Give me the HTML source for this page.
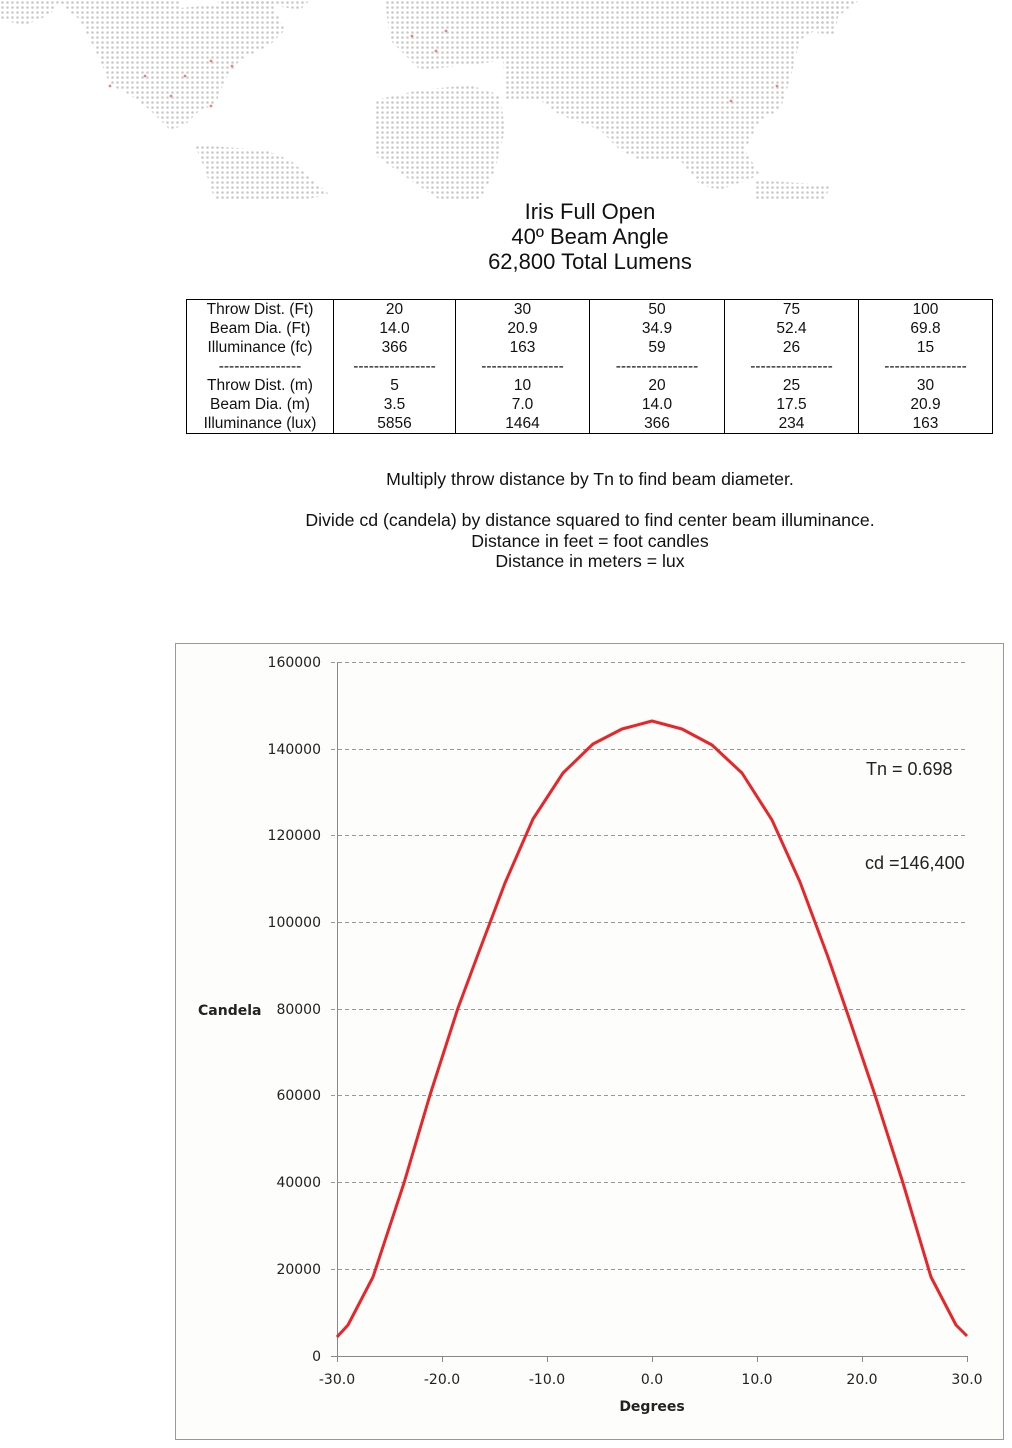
<!DOCTYPE html>
<html><head><meta charset="utf-8"><style>
body{margin:0;background:#fff;width:1012px;height:1448px;position:relative;overflow:hidden;font-family:"Liberation Sans",Arial,sans-serif;color:#111}
.t{position:absolute;left:0;width:1180px;text-align:center}
table{position:absolute;left:186px;top:299px;border-collapse:collapse;border:1px solid #000;font-size:15.5px;table-layout:fixed}
td{border-left:1px solid #000;border-right:1px solid #000;height:19px;padding:0;text-align:center;line-height:19px;white-space:nowrap;overflow:hidden}
</style></head><body>
<svg style="position:absolute;left:0;top:0" width="1012" height="205">
<defs><pattern id="d" width="5" height="5" patternUnits="userSpaceOnUse"><circle cx="2.5" cy="2.5" r="1.3" fill="#c9c9c9"/></pattern></defs>
<g fill="url(#d)">
<polygon points="0,0 60,0 50,15 25,25 0,20"/>
<polygon points="55,0 180,0 180,8 270,0 285,30 270,45 240,60 225,80 215,105 200,110 185,125 170,130 150,110 130,95 110,85 100,60 80,20"/>
<polygon points="215,0 310,0 300,10 270,5 230,10"/>
<polygon points="195,145 265,150 290,160 330,195 300,200 215,200 205,170"/>
<polygon points="385,0 505,0 505,60 470,65 420,70 390,40"/>
<polygon points="375,100 420,90 470,85 500,95 505,130 495,170 480,200 440,200 410,180 375,155"/>
<polygon points="500,0 860,0 840,15 800,40 790,80 780,110 760,120 745,150 760,175 720,190 700,185 680,160 640,160 620,150 600,130 560,115 540,100 505,100"/>
<polygon points="755,180 830,185 825,200 755,200"/>
<polygon points="815,5 840,5 835,35 818,35"/>
</g>
<g fill="#f08080"><circle cx="110" cy="86" r="1.4"/><circle cx="145" cy="76" r="1.4"/><circle cx="185" cy="76" r="1.4"/><circle cx="211" cy="61" r="1.4"/><circle cx="232" cy="66" r="1.4"/><circle cx="171" cy="96" r="1.4"/><circle cx="211" cy="106" r="1.4"/><circle cx="412" cy="36" r="1.4"/><circle cx="436" cy="51" r="1.4"/><circle cx="446" cy="31" r="1.4"/><circle cx="731" cy="101" r="1.4"/><circle cx="777" cy="86" r="1.4"/></g>
</svg>
<div class="t" style="top:199px;font-size:22px;line-height:25px">Iris Full Open<br>40º Beam Angle<br>62,800 Total Lumens</div>
<table>
<colgroup><col style="width:147px"><col style="width:122px"><col style="width:134px"><col style="width:135px"><col style="width:134px"><col style="width:134px"></colgroup>
<tr><td>Throw Dist. (Ft)</td><td>20</td><td>30</td><td>50</td><td>75</td><td>100</td></tr>
<tr><td>Beam Dia. (Ft)</td><td>14.0</td><td>20.9</td><td>34.9</td><td>52.4</td><td>69.8</td></tr>
<tr><td>Illuminance (fc)</td><td>366</td><td>163</td><td>59</td><td>26</td><td>15</td></tr>
<tr><td>----------------</td><td>----------------</td><td>----------------</td><td>----------------</td><td>----------------</td><td>----------------</td></tr>
<tr><td>Throw Dist. (m)</td><td>5</td><td>10</td><td>20</td><td>25</td><td>30</td></tr>
<tr><td>Beam Dia. (m)</td><td>3.5</td><td>7.0</td><td>14.0</td><td>17.5</td><td>20.9</td></tr>
<tr><td>Illuminance (lux)</td><td>5856</td><td>1464</td><td>366</td><td>234</td><td>163</td></tr>
</table>
<div class="t" style="top:469px;font-size:17.7px;line-height:20px">Multiply throw distance by Tn to find beam diameter.</div>
<div class="t" style="top:510px;font-size:17.7px;line-height:20.5px">Divide cd (candela) by distance squared to find center beam illuminance.<br>Distance in feet = foot candles<br>Distance in meters = lux</div>
<svg style="position:absolute;left:0;top:0" width="1012" height="1448" font-family="'DejaVu Sans',sans-serif" font-size="14" fill="#222">
<rect x="175.5" y="643.5" width="828" height="796" fill="#fdfdfc" stroke="#999"/>
<g stroke="#999" stroke-dasharray="4,3" stroke-width="1">
<line x1="331" x2="968" y1="662.5" y2="662.5"/><line x1="331" x2="968" y1="749.5" y2="749.5"/><line x1="331" x2="968" y1="835.5" y2="835.5"/><line x1="331" x2="968" y1="922.5" y2="922.5"/><line x1="331" x2="968" y1="1009.5" y2="1009.5"/><line x1="331" x2="968" y1="1095.5" y2="1095.5"/><line x1="331" x2="968" y1="1182.5" y2="1182.5"/><line x1="331" x2="968" y1="1269.5" y2="1269.5"/>
</g>
<g stroke="#888"><line x1="337.5" y1="662" x2="337.5" y2="1362"/><line x1="331" y1="1356.5" x2="968" y2="1356.5"/>
<line x1="442.5" y1="1356" x2="442.5" y2="1362"/><line x1="547.5" y1="1356" x2="547.5" y2="1362"/><line x1="652.5" y1="1356" x2="652.5" y2="1362"/><line x1="757.5" y1="1356" x2="757.5" y2="1362"/><line x1="862.5" y1="1356" x2="862.5" y2="1362"/><line x1="967.5" y1="1356" x2="967.5" y2="1362"/></g>
<g text-anchor="end"><text x="321" y="667">160000</text><text x="321" y="754">140000</text><text x="321" y="840">120000</text><text x="321" y="927">100000</text><text x="321" y="1014">80000</text><text x="321" y="1100">60000</text><text x="321" y="1187">40000</text><text x="321" y="1274">20000</text><text x="321" y="1361">0</text></g>
<g text-anchor="middle"><text x="337" y="1384">-30.0</text><text x="442" y="1384">-20.0</text><text x="547" y="1384">-10.0</text><text x="652" y="1384">0.0</text><text x="757" y="1384">10.0</text><text x="862" y="1384">20.0</text><text x="967" y="1384">30.0</text>
<text x="652" y="1411" font-weight="bold">Degrees</text></g>
<text x="198" y="1015" font-weight="bold" fill="#222">Candela</text>
<text x="866" y="775" font-size="18" font-family="'Liberation Sans',sans-serif">Tn = 0.698</text>
<text x="865" y="869" font-size="18" font-family="'Liberation Sans',sans-serif">cd =146,400</text>
<polyline fill="none" stroke="#e8262a" stroke-width="3" stroke-linejoin="round" points="337,1337 348,1325 373,1277 404,1183 430,1095 458,1008 477,957 505,883 533,819 563,773 593,744 622,729 652,721 682,729 712,745 742,773 772,820 800,882 828,957 848,1015 875,1095 903,1183 931,1277 956,1325 967,1336"/>
</svg>
</body></html>
